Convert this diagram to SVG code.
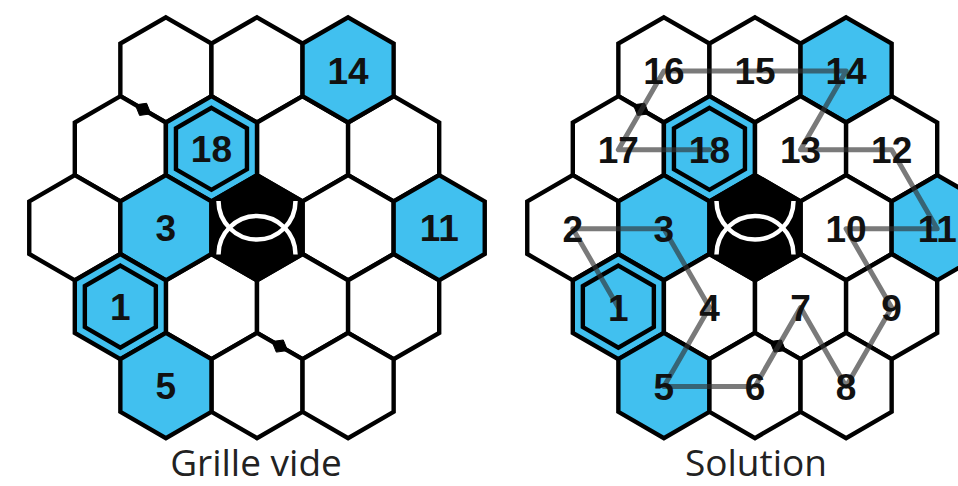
<svg xmlns="http://www.w3.org/2000/svg" xmlns:xlink="http://www.w3.org/1999/xlink" width="958" height="486" viewBox="0 0 958 486">
<defs>
<style>
.w{fill:#fff;stroke:#000;stroke-width:4.4;stroke-linejoin:miter}
.b{fill:#41c0ef;stroke:#000;stroke-width:4.4;stroke-linejoin:miter}
.k{fill:#000;stroke:#000;stroke-width:4.4}
.in{fill:none;stroke:#000;stroke-width:4.4}
.arc{fill:none;stroke:#fff;stroke-width:4.5}
.dot{fill:#000;stroke:#000;stroke-width:1;stroke-linejoin:round}
.n{font-family:"Liberation Sans",Arial,sans-serif;font-weight:bold;font-size:37px;fill:#111;text-anchor:middle}
.lab{font-family:"Open Sans","Noto Sans",sans-serif;font-size:37px;fill:#222;text-anchor:middle}
.path{fill:none;stroke:#333;stroke-opacity:0.65;stroke-width:5;stroke-linejoin:round;stroke-linecap:round}
</style>
<polygon id="hx" points="0,-52.6 45.55,-26.3 45.55,26.3 0,52.6 -45.55,26.3 -45.55,-26.3"/>
<polygon id="hi" points="0,-41 35.5,-20.5 35.5,20.5 0,41 -35.5,20.5 -35.5,-20.5"/>
<g id="eye">
<path class="arc" d="M -38.5 -26.7 A 38.5 38.5 0 0 0 38.5 -26.7"/>
<path class="arc" d="M -38.5 26.8 A 38.5 38.5 0 0 1 38.5 26.8"/>
</g>
</defs>
<rect width="958" height="486" fill="#fff"/>

<!-- Left grid: Grille vide -->
<g id="grid-left">
<g id="L-r0c0"><use href="#hx" class="w" x="165.9" y="69.9"/></g>
<g id="L-r0c1"><use href="#hx" class="w" x="257" y="69.9"/></g>
<g id="L-r1c0"><use href="#hx" class="w" x="120.35" y="148.8"/></g>
<g id="L-r1c2"><use href="#hx" class="w" x="302.55" y="148.8"/></g>
<g id="L-r1c3"><use href="#hx" class="w" x="393.65" y="148.8"/></g>
<g id="L-r2c0"><use href="#hx" class="w" x="74.8" y="227.7"/></g>
<g id="L-r2c3"><use href="#hx" class="w" x="348.1" y="227.7"/></g>
<g id="L-r3c1"><use href="#hx" class="w" x="211.45" y="306.6"/></g>
<g id="L-r3c2"><use href="#hx" class="w" x="302.55" y="306.6"/></g>
<g id="L-r3c3"><use href="#hx" class="w" x="393.65" y="306.6"/></g>
<g id="L-r4c1"><use href="#hx" class="w" x="257" y="385.5"/></g>
<g id="L-r4c2"><use href="#hx" class="w" x="348.1" y="385.5"/></g>
<g id="L-14"><use href="#hx" class="b" x="348.1" y="69.9"/><text class="n" x="348.1" y="83.9">14</text></g>
<g id="L-18"><use href="#hx" class="b" x="211.45" y="148.8"/><use href="#hi" class="in" x="211.45" y="148.8"/><text class="n" x="211.45" y="162.3">18</text></g>
<g id="L-3"><use href="#hx" class="b" x="165.9" y="227.7"/><text class="n" x="165.9" y="241.4">3</text></g>
<g id="L-11"><use href="#hx" class="b" x="439.2" y="227.7"/><text class="n" x="439.2" y="241.4">11</text></g>
<g id="L-1"><use href="#hx" class="b" x="120.35" y="306.6"/><use href="#hi" class="in" x="120.35" y="306.6"/><text class="n" x="120.35" y="320.3">1</text></g>
<g id="L-5"><use href="#hx" class="b" x="165.9" y="385.5"/><text class="n" x="165.9" y="399.2">5</text></g>
<g id="L-center"><use href="#hx" class="k" x="257" y="227.7"/><use href="#eye" x="257" y="227.7"/></g>
<g id="L-dots">
<polygon class="dot" points="135.31,104.85 139.6,115.41 150.89,113.85 146.6,103.29"/>
<polygon class="dot" points="272.01,341.55 276.3,352.11 287.59,350.55 283.3,339.99"/>
</g>
<text class="lab" x="256" y="476">Grille vide</text>
</g>

<!-- Right grid: Solution -->
<g id="grid-right">
<g id="R-16"><use href="#hx" class="w" x="663.9" y="69.9"/></g>
<g id="R-15"><use href="#hx" class="w" x="755" y="69.9"/></g>
<g id="R-14"><use href="#hx" class="b" x="846.1" y="69.9"/></g>
<g id="R-17"><use href="#hx" class="w" x="618.35" y="148.8"/></g>
<g id="R-18"><use href="#hx" class="b" x="709.45" y="148.8"/><use href="#hi" class="in" x="709.45" y="148.8"/></g>
<g id="R-13"><use href="#hx" class="w" x="800.55" y="148.8"/></g>
<g id="R-12"><use href="#hx" class="w" x="891.65" y="148.8"/></g>
<g id="R-2"><use href="#hx" class="w" x="572.8" y="227.7"/></g>
<g id="R-3"><use href="#hx" class="b" x="663.9" y="227.7"/></g>
<g id="R-10"><use href="#hx" class="w" x="846.1" y="227.7"/></g>
<g id="R-11"><use href="#hx" class="b" x="937.2" y="227.7"/></g>
<g id="R-1"><use href="#hx" class="b" x="618.35" y="306.6"/><use href="#hi" class="in" x="618.35" y="306.6"/></g>
<g id="R-4"><use href="#hx" class="w" x="709.45" y="306.6"/></g>
<g id="R-7"><use href="#hx" class="w" x="800.55" y="306.6"/></g>
<g id="R-9"><use href="#hx" class="w" x="891.65" y="306.6"/></g>
<g id="R-5"><use href="#hx" class="b" x="663.9" y="385.5"/></g>
<g id="R-6"><use href="#hx" class="w" x="755" y="385.5"/></g>
<g id="R-8"><use href="#hx" class="w" x="846.1" y="385.5"/></g>
<g id="R-center"><use href="#hx" class="k" x="755" y="227.7"/><use href="#eye" x="755" y="227.7"/></g>
<g id="R-dots">
<polygon class="dot" points="633.31,104.85 637.6,115.41 648.89,113.85 644.6,103.29"/>
<polygon class="dot" points="770.01,341.55 774.3,352.11 785.59,350.55 781.3,339.99"/>
</g>
<g id="connectors">
<polyline class="path" points="618.35,307.6 572.8,228.7 663.9,228.7 709.45,307.6 663.9,386.5 755,386.5 800.55,307.6 846.1,386.5 891.65,307.6 846.1,228.7 937.2,228.7 891.65,149.8 800.55,149.8 846.1,70.9 755,70.9 663.9,70.9 618.35,149.8 709.45,149.8"/>
</g>
<g id="R-numbers">
<text class="n" x="663.9" y="83.9">16</text>
<text class="n" x="755" y="83.9">15</text>
<text class="n" x="846.1" y="83.9">14</text>
<text class="n" x="618.35" y="162.8">17</text>
<text class="n" x="709.45" y="162.8">18</text>
<text class="n" x="800.55" y="162.8">13</text>
<text class="n" x="891.65" y="162.8">12</text>
<text class="n" x="572.8" y="241.7">2</text>
<text class="n" x="663.9" y="241.7">3</text>
<text class="n" x="846.1" y="241.7">10</text>
<text class="n" x="937.2" y="241.7">11</text>
<text class="n" x="618.35" y="320.6">1</text>
<text class="n" x="709.45" y="320.6">4</text>
<text class="n" x="800.55" y="320.6">7</text>
<text class="n" x="891.65" y="320.6">9</text>
<text class="n" x="663.9" y="399.5">5</text>
<text class="n" x="755" y="399.5">6</text>
<text class="n" x="846.1" y="399.5">8</text>
</g>
<text class="lab" x="756" y="476">Solution</text>
</g>
</svg>
